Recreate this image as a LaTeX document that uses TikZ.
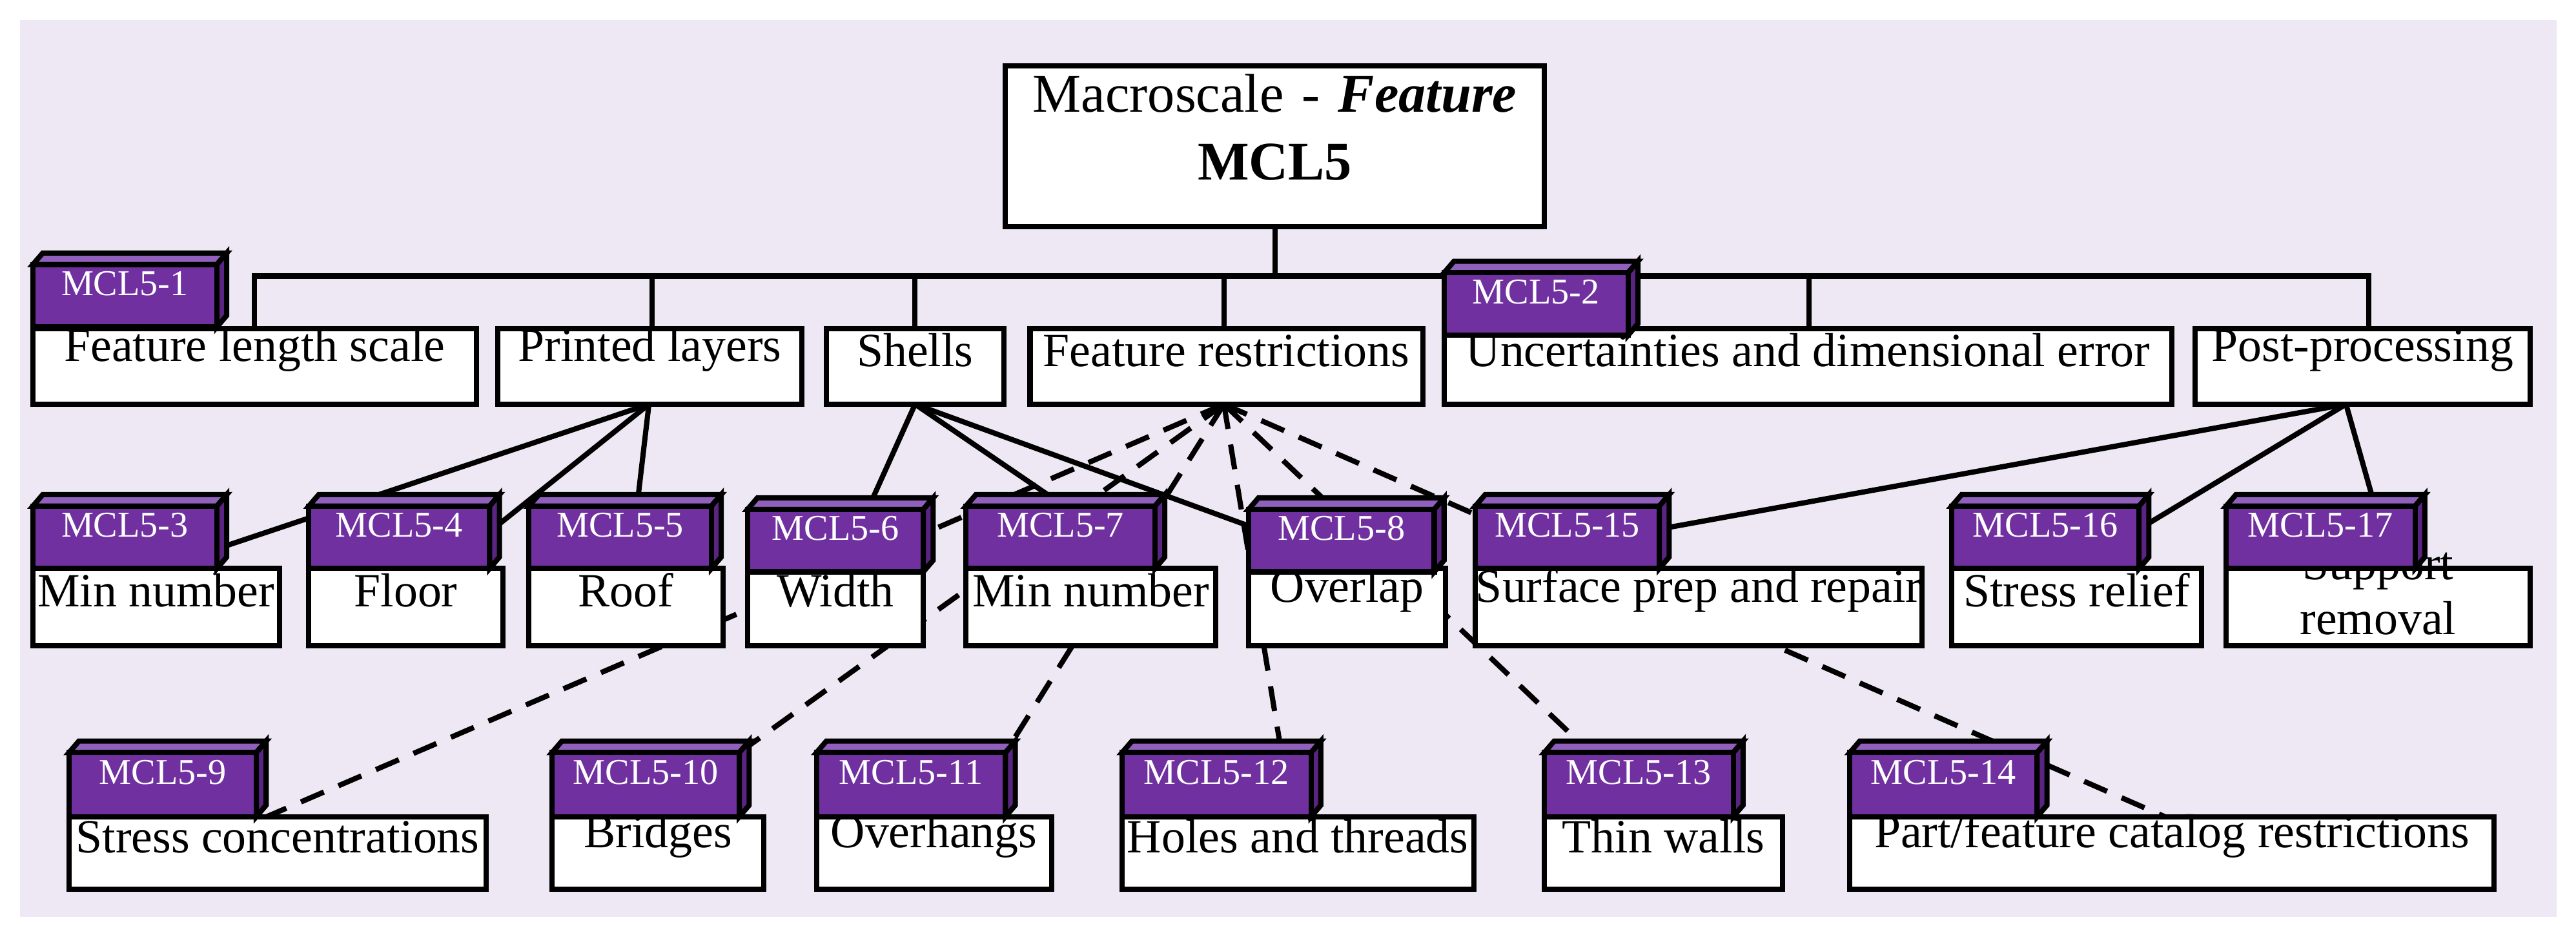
\documentclass[tikz,border=0pt]{standalone}
\usepackage{fontspec}
\setmainfont{Liberation Serif}
\usetikzlibrary{fit}
\definecolor{bg}{HTML}{EEE8F4}
\definecolor{pf}{HTML}{7030A0}
\definecolor{pt}{HTML}{9060BC}
\definecolor{pr}{HTML}{5A2482}
\tikzset{
 box/.style={draw=black,line width=2.3pt,fill=white,inner sep=0pt,font=\fontsize{21}{24}\selectfont},
 tagf/.style={draw=black,line width=2.3pt,fill=pf,inner sep=0pt,text=white,font=\fontsize{16}{18}\selectfont},
 face/.style={draw=black,line width=2.3pt,line join=miter},
 ln/.style={line width=2.3pt},
 dl/.style={line width=2.3pt,dash pattern=on 11pt off 7pt},
}
\newcommand{\bx}[6]{\node[box,fit={(#2,#3)(#4,#5)}] (#1) {#6};}
\newcommand{\tg}[6]{%
 \filldraw[face,fill=pt] (#2,#3)--(#2+6,#3-7)--(#4+6,#3-7)--(#4,#3)--cycle;
 \filldraw[face,fill=pr] (#4,#3)--(#4+6,#3-7)--(#4+6,#5-7)--(#4,#5)--cycle;
 \node[tagf,fit={(#2,#3)(#4,#5)}] (#1) {#6};}
\begin{document}
\begin{tikzpicture}[x=0.02545cm,y=-0.02545cm]
\useasboundingbox (0,0) rectangle (1568,570);
\fill[bg] (12,12) rectangle (1556,558);
% coordinates for lines (drawn first)
\coordinate (bus) at (776,168);
\coordinate (PLs) at (395,246);
\coordinate (SHs) at (557,246);
\coordinate (FRs) at (745,246);
\coordinate (PPs) at (1428,246);
% bus
\draw[ln] (776,138) -- (bus);
\draw[ln] (155,200) -- (155,168) -- (1442,168) -- (1442,200);
\foreach \x in {397,557,745,1101}{\draw[ln] (\x,168) -- (\x,200);}
% solid connectors
\draw[ln] (PLs) -- (135,333);
\draw[ln] (PLs) -- (300,322);
\draw[ln] (PLs) -- (388,306);
\draw[ln] (SHs) -- (530,306);
\draw[ln] (SHs) -- (645,306);
\draw[ln] (SHs) -- (760,320);
\draw[ln] (PPs) -- (1010,322);
\draw[ln] (PPs) -- (1302,322);
\draw[ln] (PPs) -- (1445,306);
% dashed connectors
\draw[dl] (FRs) -- (160,498);
\draw[dl] (FRs) -- (450,458);
\draw[dl] (FRs) -- (612,458);
\draw[dl] (FRs) -- (780,458);
\draw[dl] (FRs) -- (968,458);
\draw[dl] (FRs) -- (1320,498);
% top
\node[box,fit={(612,40)(940,138)},font=\fontsize{24}{30}\selectfont,align=center] (top) {Macroscale - \textbf{\textit{Feature}}\\\textbf{MCL5}};
% row 1
\bx{b1}{20}{200}{290}{246}{Feature length scale}
\bx{b19}{303}{200}{488}{246}{Printed layers}
\bx{b20}{503}{200}{611}{246}{Shells}
\bx{b21}{627}{200}{866}{246}{Feature restrictions}
\bx{b2}{879}{200}{1322}{246}{Uncertainties and dimensional error}
\bx{b22}{1336}{200}{1540}{246}{Post-processing}
\tg{t1}{20}{161}{132}{199}{MCL5-1}
\tg{t2}{879}{166}{991}{204}{MCL5-2}
% row 2
\bx{b3}{20}{346}{170}{393}{Min number}
\bx{b4}{188}{346}{306}{393}{Floor}
\bx{b5}{322}{346}{440}{393}{Roof}
\bx{b6}{455}{346}{562}{393}{Width}
\bx{b7}{588}{346}{740}{393}{Min number}
\bx{b8}{760}{346}{880}{393}{Overlap}
\bx{b15}{898}{346}{1170}{393}{Surface prep and repair}
\bx{b16}{1188}{346}{1340}{393}{Stress relief}
\bx{b17}{1355}{346}{1540}{393}{Support removal}
\tg{t3}{20}{308}{132}{346}{MCL5-3}
\tg{t4}{188}{308}{298}{346}{MCL5-4}
\tg{t5}{322}{308}{433}{346}{MCL5-5}
\tg{t6}{455}{310}{562}{348}{MCL5-6}
\tg{t7}{588}{308}{703}{346}{MCL5-7}
\tg{t8}{760}{310}{873}{348}{MCL5-8}
\tg{t15}{898}{308}{1010}{346}{MCL5-15}
\tg{t16}{1188}{308}{1302}{346}{MCL5-16}
\tg{t17}{1355}{308}{1470}{346}{MCL5-17}
% row 3
\bx{b9}{42}{497}{296}{541}{Stress concentrations}
\bx{b10}{336}{497}{465}{541}{Bridges}
\bx{b11}{497}{497}{640}{541}{Overhangs}
\bx{b12}{683}{497}{897}{541}{Holes and threads}
\bx{b13}{940}{497}{1085}{541}{Thin walls}
\bx{b14}{1126}{497}{1518}{541}{Part/feature catalog restrictions}
\tg{t9}{42}{458}{156}{497}{MCL5-9}
\tg{t10}{336}{458}{450}{497}{MCL5-10}
\tg{t11}{497}{458}{612}{497}{MCL5-11}
\tg{t12}{683}{458}{798}{497}{MCL5-12}
\tg{t13}{940}{458}{1055}{497}{MCL5-13}
\tg{t14}{1126}{458}{1240}{497}{MCL5-14}
\end{tikzpicture}
\end{document}
